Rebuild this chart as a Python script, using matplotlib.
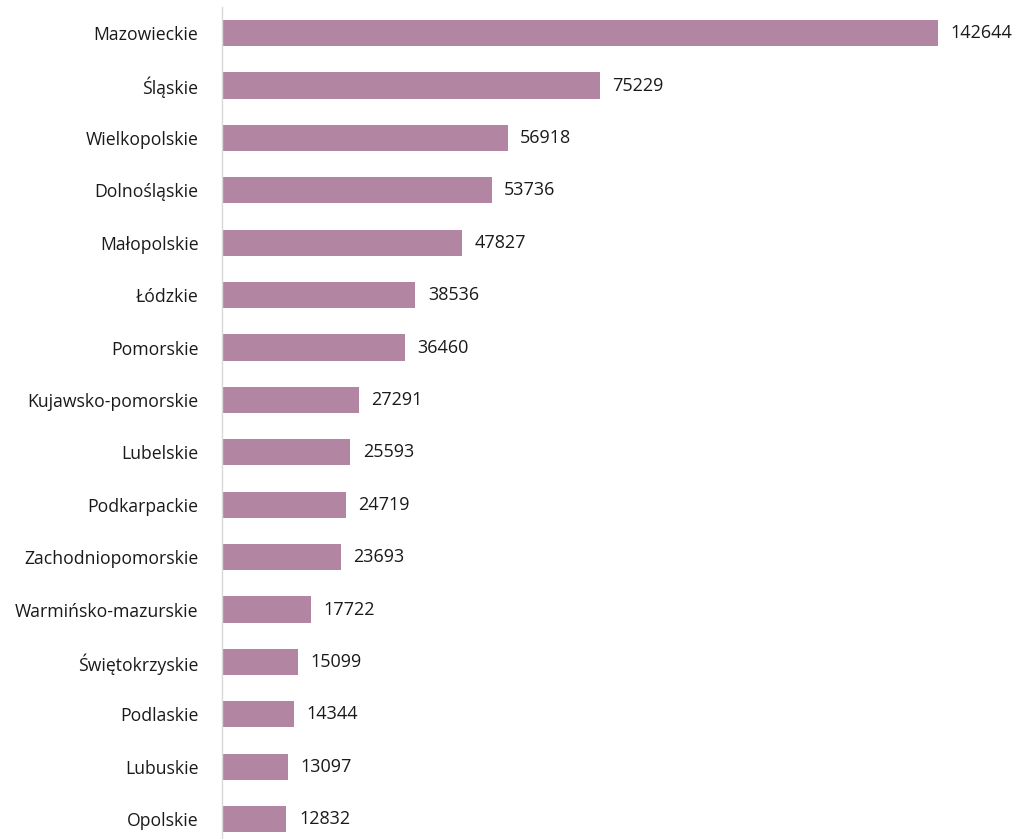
import matplotlib
matplotlib.use("Agg")
import matplotlib.pyplot as plt

# voivodeships, top to bottom
regions = ["Mazowieckie", "Śląskie", "Wielkopolskie", "Dolnośląskie", "Małopolskie",
           "Łódzkie", "Pomorskie", "Kujawsko-pomorskie", "Lubelskie", "Podkarpackie",
           "Zachodniopomorskie", "Warmińsko-mazurskie", "Świętokrzyskie", "Podlaskie",
           "Lubuskie", "Opolskie"]
values = [142644, 75229, 56918, 53736, 47827, 38536, 36460, 27291, 25593, 24719,
          23693, 17722, 15099, 14344, 13097, 12832]

plt.rcParams['font.family'] = ['Open Sans', 'DejaVu Sans']

W, H = 1019, 839
fig = plt.figure(figsize=(W / 100, H / 100), dpi=100)
ax = fig.add_axes([222 / W, 0, (W - 222) / W, (H - 7) / H])

ypos = list(range(len(regions)))
ax.barh(ypos, values, height=0.5, color="#b286a2")
for y, v in zip(ypos, values):
    ax.annotate(str(v), (v, y), xytext=(9, 0), textcoords="offset points",
                va="center", ha="left", fontsize=13, color="#1a1a1a")

ax.set_xlim(0, (W - 222) / 0.005020)
ax.set_ylim(15.38, -0.5)
ax.set_yticks(ypos)
ax.set_yticklabels(regions, fontsize=12.7, color="#1a1a1a")
ax.tick_params(axis="y", length=0, pad=17)
ax.set_xticks([])
for s in ["top", "right", "bottom"]:
    ax.spines[s].set_visible(False)
ax.spines["left"].set_color("#d9d9d9")
ax.spines["left"].set_linewidth(1)

fig.savefig("out.png", dpi=100)
